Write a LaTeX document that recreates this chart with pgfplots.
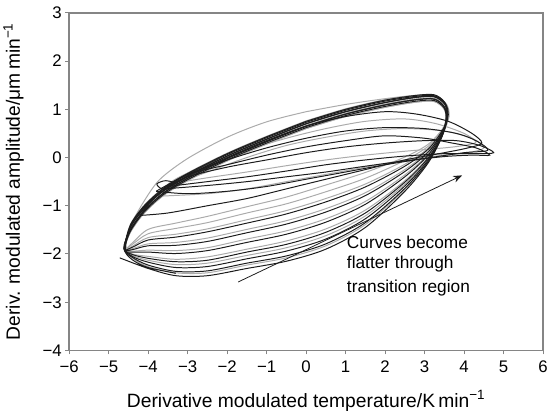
\documentclass[border=0pt]{standalone}
\usepackage{pgfplots}
\pgfplotsset{compat=1.18}
\usepackage{fontspec}
\setmainfont{Liberation Sans}
\usetikzlibrary{arrows.meta}
\definecolor{blk}{HTML}{1C1C1C}
\definecolor{gry}{HTML}{ABABAB}
\definecolor{framec}{HTML}{858585}
\begin{document}
\begin{tikzpicture}
\begin{axis}[
  scale only axis, width=480pt, height=342pt,
  xmin=-6, xmax=6, ymin=-4, ymax=3,
  xtick={-6,...,6}, ytick={-4,...,3},
  xticklabels={−6,−5,−4,−3,−2,−1,0,1,2,3,4,5,6},
  yticklabels={−4,−3,−2,−1,0,1,2,3},
  tick pos=left, tick align=outside, major tick length=4pt,
  axis line style={draw=framec, line width=1.5pt},
  every tick/.style={framec, line width=1pt},
  ticklabel style={font=\fontsize{17}{19}\selectfont},
  xticklabel style={yshift=-3pt},
  yticklabel style={xshift=0pt},
  label style={font=\fontsize{19.5}{22}\selectfont},
  xlabel={Derivative modulated temperature/K\,min\textsuperscript{−1}},
  ylabel={Deriv. modulated amplitude/μm\,min\textsuperscript{−1}},
  xlabel shift=11pt,
  ylabel shift=12pt,
  every axis plot/.append style={smooth, tension=0.5, line width=1pt},
]
% gray loops
\addplot[gry] coordinates {(0,0.95) (1,1.1) (2,1.22) (2.8,1.29) (3.3,1.27) (3.56,1.1) (3.62,0.85) (3.45,0.46) (3.1,-0.08) (2.5,-0.66) (1.5,-1.39) (0.5,-1.83) (-0.5,-2.08) (-1.5,-2.23) (-2.5,-2.39) (-3.3,-2.39) (-4.0,-2.26) (-4.4,-2.08) (-4.56,-1.82) (-4.42,-1.38) (-4.1,-0.9) (-3.7,-0.45) (-3.0,-0.02) (-2.0,0.42) (-1.0,0.74) (0,0.95)};
\addplot[gry] coordinates {(0,0.6) (1,0.85) (2,1.04) (2.8,1.15) (3.25,1.16) (3.5,1.0) (3.55,0.75) (3.45,0.48) (3.1,-0.02) (2.5,-0.55) (1.5,-1.21) (0.5,-1.62) (-0.5,-1.87) (-1.5,-2.03) (-2.5,-2.19) (-3.3,-2.22) (-4.0,-2.13) (-4.4,-2.03) (-4.6,-1.9) (-4.45,-1.55) (-4.1,-1.15) (-3.6,-0.78) (-3.0,-0.48) (-2.0,-0.07) (-1.0,0.28) (0,0.6)};
\addplot[gry] coordinates {(0,0.76) (1,1.01) (2,1.2) (2.8,1.29) (3.25,1.29) (3.5,1.13) (3.57,0.88) (3.45,0.5) (3.1,0.02) (2.5,-0.48) (1.5,-1.09) (0.5,-1.48) (-0.5,-1.73) (-1.5,-1.9) (-2.5,-2.06) (-3.3,-2.11) (-4.0,-2.05) (-4.4,-2.0) (-4.58,-1.88) (-4.45,-1.39) (-4.1,-0.99) (-3.6,-0.62) (-3.0,-0.32) (-2.0,0.09) (-1.0,0.44) (0,0.76)};
\addplot[gry] coordinates {(0,0.67) (1,0.92) (2,1.11) (2.8,1.22) (3.25,1.23) (3.52,1.07) (3.57,0.82) (3.45,0.52) (3.1,0.08) (2.5,-0.36) (1.5,-0.91) (0.5,-1.27) (-0.5,-1.52) (-1.5,-1.69) (-2.5,-1.87) (-3.3,-1.93) (-4.0,-1.92) (-4.4,-1.94) (-4.6,-1.9) (-4.45,-1.48) (-4.1,-1.08) (-3.6,-0.71) (-3.0,-0.41) (-2.0,0.0) (-1.0,0.35) (0,0.67)};
\addplot[gry] coordinates {(0,0.74) (1,0.99) (2,1.18) (2.8,1.28) (3.25,1.28) (3.52,1.12) (3.58,0.88) (3.45,0.54) (3.1,0.14) (2.5,-0.25) (1.5,-0.73) (0.5,-1.06) (-0.5,-1.31) (-1.5,-1.49) (-2.5,-1.67) (-3.3,-1.76) (-4.0,-1.79) (-4.4,-1.89) (-4.6,-1.9) (-4.45,-1.41) (-4.1,-1.01) (-3.6,-0.64) (-3.0,-0.34) (-2.0,0.07) (-1.0,0.42) (0,0.74)};
\addplot[gry] coordinates {(0,0.6) (1,0.85) (2,1.04) (2.8,1.15) (3.25,1.16) (3.5,1.0) (3.55,0.75) (3.45,0.56) (3.1,0.2) (2.5,-0.14) (1.5,-0.55) (0.5,-0.85) (-0.5,-1.1) (-1.5,-1.29) (-2.5,-1.48) (-3.3,-1.59) (-4.0,-1.66) (-4.4,-1.84) (-4.6,-1.92) (-4.45,-1.55) (-4.1,-1.15) (-3.6,-0.78) (-3.0,-0.48) (-2.0,-0.07) (-1.0,0.28) (0,0.6)};
\addplot[gry] coordinates {(0,0.7) (1,0.95) (2,1.14) (2.8,1.25) (3.25,1.26) (3.52,1.1) (3.58,0.85) (3.45,0.58) (3.1,0.24) (2.5,-0.06) (1.5,-0.43) (0.5,-0.71) (-0.5,-0.96) (-1.5,-1.15) (-2.5,-1.35) (-3.3,-1.47) (-4.0,-1.58) (-4.4,-1.8) (-4.6,-1.9) (-4.45,-1.45) (-4.1,-1.05) (-3.6,-0.68) (-3.0,-0.38) (-2.0,0.03) (-1.0,0.38) (0,0.7)};
\addplot[gry] coordinates {(0,0.65) (1,0.9) (2,1.09) (2.8,1.2) (3.25,1.21) (3.5,1.05) (3.56,0.8) (3.45,0.59) (3.1,0.28) (2.5,0.01) (1.5,-0.31) (0.5,-0.57) (-0.5,-0.82) (-1.5,-1.02) (-2.5,-1.22) (-3.3,-1.36) (-4.0,-1.49) (-4.4,-1.77) (-4.6,-1.9) (-4.45,-1.5) (-4.1,-1.1) (-3.6,-0.73) (-3.0,-0.43) (-2.0,-0.02) (-1.0,0.33) (0,0.65)};
\addplot[gry] coordinates {(-3.7,-0.8) (-2.5,-0.75) (-1.5,-0.65) (-0.5,-0.5) (0.5,-0.35) (1.5,-0.2) (2.5,-0.05) (3.5,0.05) (4.1,0.1) (4.5,0.2) (4.2,0.4) (3.5,0.55) (2.5,0.6) (1.5,0.55) (0.5,0.42) (-0.5,0.25) (-1.5,0.0) (-2.5,-0.3) (-3.3,-0.55) (-3.7,-0.8)};
\addplot[gry] coordinates {(-3.5,-0.55) (-2.5,-0.42) (-1.5,-0.3) (-0.5,-0.17) (0.5,-0.05) (1.5,0.05) (2.5,0.13) (3.5,0.2) (4.0,0.25) (4.3,0.32) (4.0,0.5) (3.3,0.7) (2.5,0.8) (1.5,0.75) (0.5,0.6) (-0.5,0.4) (-1.5,0.15) (-2.5,-0.15) (-3.2,-0.4) (-3.5,-0.55)};
% black loops
\addplot[blk] coordinates {(-4.72,-2.08) (-4.0,-2.3) (-3.3,-2.45) (-2.5,-2.45) (-1.5,-2.3) (-0.5,-2.15) (0.5,-1.9) (1.5,-1.45) (2.5,-0.7) (3.1,-0.1) (3.45,0.45) (3.58,0.85) (3.52,1.1) (3.25,1.26) (2.8,1.25) (2,1.14) (1,0.95) (0,0.7) (-1,0.38) (-2,0.03) (-3,-0.38) (-3.6,-0.68) (-4.1,-1.05) (-4.45,-1.45) (-4.6,-1.9) (-4.4,-2.12) (-4.0,-2.28) (-3.3,-2.4)};
\addplot[blk] coordinates {(0,0.75) (1,1.0) (2,1.19) (2.8,1.29) (3.25,1.3) (3.5,1.15) (3.55,0.9) (3.45,0.46) (3.1,-0.07) (2.5,-0.64) (1.5,-1.35) (0.5,-1.79) (-0.5,-2.04) (-1.5,-2.19) (-2.5,-2.35) (-3.3,-2.36) (-4.0,-2.23) (-4.4,-2.07) (-4.6,-1.9) (-4.45,-1.4) (-4.1,-1.0) (-3.6,-0.63) (-3.0,-0.33) (-2.0,0.08) (-1.0,0.43) (0,0.75)};
\addplot[blk] coordinates {(0,0.65) (1,0.9) (2,1.09) (2.8,1.2) (3.25,1.21) (3.5,1.05) (3.56,0.8) (3.45,0.47) (3.1,-0.04) (2.5,-0.59) (1.5,-1.27) (0.5,-1.69) (-0.5,-1.94) (-1.5,-2.1) (-2.5,-2.26) (-3.3,-2.28) (-4.0,-2.17) (-4.4,-2.05) (-4.62,-1.88) (-4.45,-1.5) (-4.1,-1.1) (-3.6,-0.73) (-3.0,-0.43) (-2.0,-0.02) (-1.0,0.33) (0,0.65)};
\addplot[blk] coordinates {(0,0.73) (1,0.98) (2,1.17) (2.8,1.27) (3.25,1.28) (3.52,1.13) (3.6,0.88) (3.45,0.49) (3.1,0.0) (2.5,-0.51) (1.5,-1.15) (0.5,-1.55) (-0.5,-1.8) (-1.5,-1.96) (-2.5,-2.13) (-3.3,-2.16) (-4.0,-2.09) (-4.4,-2.01) (-4.58,-1.9) (-4.45,-1.42) (-4.1,-1.02) (-3.6,-0.65) (-3.0,-0.35) (-2.0,0.06) (-1.0,0.41) (0,0.73)};
\addplot[blk] coordinates {(0,0.62) (1,0.87) (2,1.06) (2.8,1.17) (3.25,1.18) (3.5,1.02) (3.55,0.77) (3.45,0.51) (3.1,0.06) (2.5,-0.4) (1.5,-0.97) (0.5,-1.34) (-0.5,-1.59) (-1.5,-1.76) (-2.5,-1.93) (-3.3,-1.99) (-4.0,-1.96) (-4.4,-1.96) (-4.6,-1.92) (-4.45,-1.53) (-4.1,-1.13) (-3.6,-0.76) (-3.0,-0.46) (-2.0,-0.05) (-1.0,0.3) (0,0.62)};
\addplot[blk] coordinates {(0,0.7) (1,0.95) (2,1.14) (2.8,1.25) (3.25,1.26) (3.52,1.1) (3.58,0.85) (3.45,0.53) (3.1,0.12) (2.5,-0.29) (1.5,-0.79) (0.5,-1.13) (-0.5,-1.38) (-1.5,-1.56) (-2.5,-1.74) (-3.3,-1.82) (-4.0,-1.83) (-4.4,-1.91) (-4.6,-1.9) (-4.45,-1.45) (-4.1,-1.05) (-3.6,-0.68) (-3.0,-0.38) (-2.0,0.03) (-1.0,0.38) (0,0.7)};
\addplot[blk] coordinates {(0,0.65) (1,0.9) (2,1.09) (2.8,1.2) (3.25,1.21) (3.5,1.05) (3.56,0.8) (3.45,0.56) (3.1,0.18) (2.5,-0.18) (1.5,-0.61) (0.5,-0.92) (-0.5,-1.17) (-1.5,-1.36) (-2.5,-1.54) (-3.3,-1.65) (-4.0,-1.71) (-4.4,-1.86) (-4.6,-1.9) (-4.45,-1.5) (-4.1,-1.1) (-3.6,-0.73) (-3.0,-0.43) (-2.0,-0.02) (-1.0,0.33) (0,0.65)};
\addplot[blk] coordinates {(-3.5,-0.6) (-2.5,-0.5) (-1.5,-0.4) (-0.5,-0.28) (0.5,-0.15) (1.5,-0.05) (2.5,0.03) (3.5,0.08) (4.3,0.08) (4.75,0.1) (4.4,0.25) (3.8,0.35) (3.0,0.35) (2.0,0.3) (1.0,0.22) (0,0.1) (-1,-0.05) (-2,-0.2) (-3,-0.4) (-3.5,-0.6)};
\addplot[blk] coordinates {(-3.6,-0.65) (-2.5,-0.58) (-1.5,-0.5) (-0.5,-0.4) (0.5,-0.3) (1.5,-0.18) (2.5,-0.07) (3.5,0.02) (4.2,0.05) (4.65,0.05) (4.3,0.2) (3.7,0.3) (3.0,0.4) (2.0,0.45) (1.0,0.35) (0,0.22) (-1,0.05) (-2,-0.15) (-3,-0.35) (-3.6,-0.65)};
\addplot[blk] coordinates {(-3.8,-0.7) (-3,-0.75) (-2,-0.7) (-1,-0.6) (0,-0.45) (1,-0.3) (2,-0.15) (3,-0.02) (4,0.1) (4.6,0.15) (4.3,0.35) (3.8,0.5) (3,0.6) (2,0.62) (1,0.55) (0,0.4) (-1,0.2) (-2,-0.05) (-3,-0.35) (-3.8,-0.7)};
\addplot[blk] coordinates {(-4.2,-1.2) (-3.5,-1.15) (-2.5,-1.0) (-1.5,-0.85) (-0.5,-0.65) (0.5,-0.45) (1.5,-0.25) (2.5,-0.05) (3.5,0.1) (4.1,0.2) (4.45,0.3) (4.2,0.5) (3.6,0.75) (2.8,0.9) (2,0.95) (1,0.85) (0,0.65) (-1,0.35) (-2,0.0) (-3,-0.4) (-3.8,-0.8) (-4.2,-1.2)};
\addplot[blk] coordinates {(-3.2,-0.55) (-3.55,-0.48) (-3.78,-0.55) (-3.62,-0.66) (-3.3,-0.6)};
% arrow
\addplot[blk, sharp plot, line width=0.8pt, -{Stealth[length=9pt,width=7pt]}] coordinates {(-1.72,-2.58) (3.95,-0.37)};
\node[anchor=north west, align=left, inner sep=0pt, font=\fontsize{17.5}{20.5}\selectfont] at (axis cs:1.03,-1.62) {Curves become\\flatter through\\[4pt]transition region};
\end{axis}
\path (current axis.north west) ++(0pt,13pt);
\path (current axis.south west) ++(0pt,-58pt);
\end{tikzpicture}
\end{document}
